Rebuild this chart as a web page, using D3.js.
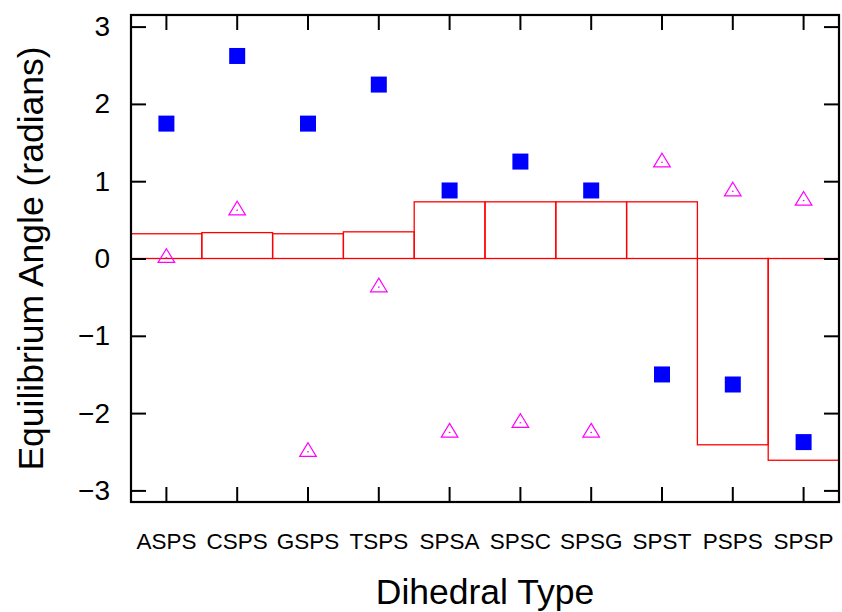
<!DOCTYPE html>
<html>
<head>
<meta charset="utf-8">
<script src="https://cdn.jsdelivr.net/npm/d3@7"></script>
<style>
  html, body { margin: 0; padding: 0; background: #fff; }
  svg { display: block; font-family: "Liberation Sans", Arial, sans-serif; }
</style>
</head>
<body>
<svg id="chart" width="842" height="612"></svg>
<script>
const categories = ["ASPS", "CSPS", "GSPS", "TSPS", "SPSA", "SPSC", "SPSG", "SPST", "PSPS", "SPSP"];
const boxValues = [0.32, 0.335, 0.32, 0.345, 0.733, 0.733, 0.733, 0.733, -2.41, -2.61];
const squareValues = [1.745, 2.62, 1.745, 2.25, 0.88, 1.254, 0.88, -1.5, -1.63, -2.375];
const triangleValues = [0.01, 0.625, -2.5, -0.37, -2.25, -2.125, -2.25, 1.245, 0.87, 0.75];
const yTicks = [-3, -2, -1, 0, 1, 2, 3];

(function () {
const svg = d3.select("#chart");
const mLeft = 131, mRight = 839, mTop = 15, mBottom = 502;

const x = d3.scaleBand().domain(categories).range([mLeft, mRight]).paddingInner(0).paddingOuter(0);
const y = d3.scaleLinear().domain([-3.15, 3.15]).range([mBottom, mTop]);
const cx = d => x(d) + x.bandwidth() / 2;

// boxes
svg.append("g").selectAll("rect").data(categories).join("rect")
  .attr("x", d => x(d))
  .attr("width", x.bandwidth())
  .attr("y", (d, i) => y(Math.max(0, boxValues[i])))
  .attr("height", (d, i) => Math.abs(y(boxValues[i]) - y(0)))
  .attr("fill", "none")
  .attr("stroke", "#ff0000")
  .attr("stroke-width", 1.3);

// squares
const sq = 16;
svg.append("g").selectAll("rect").data(categories).join("rect")
  .attr("x", d => cx(d) - sq / 2)
  .attr("y", (d, i) => y(squareValues[i]) - sq / 2)
  .attr("width", sq).attr("height", sq)
  .attr("fill", "#0000ff");

// triangles
const tri = svg.append("g").selectAll("g").data(categories).join("g")
  .attr("transform", (d, i) => `translate(${cx(d)},${y(triangleValues[i])})`);
tri.append("path")
  .attr("d", "M0,-9L8.3,4.7L-8.3,4.7Z")
  .attr("fill", "none")
  .attr("stroke", "#ff00ff")
  .attr("stroke-width", 1.2);
tri.append("rect")
  .attr("x", -0.8).attr("y", -0.6).attr("width", 1.6).attr("height", 1.2)
  .attr("fill", "#ff00ff");

// axes (ticks inward, mirrored)
const tickLen = 15;
const axisG = svg.append("g");
const yAxisL = d3.axisLeft(y).tickValues(yTicks).tickSize(-tickLen).tickPadding(21)
  .tickFormat(d => d < 0 ? "\u2212" + Math.abs(d) : String(d));
const gl = axisG.append("g").attr("transform", `translate(${mLeft},0)`).call(yAxisL);
gl.select(".domain").remove();
gl.selectAll("text").attr("font-size", 28).attr("fill", "#000").attr("font-family", "Liberation Sans, Arial, sans-serif");

const yAxisR = d3.axisRight(y).tickValues(yTicks).tickSize(-tickLen).tickFormat("");
const gr = axisG.append("g").attr("transform", `translate(${mRight},0)`).call(yAxisR);
gr.select(".domain").remove();

const xAxisB = d3.axisBottom(x).tickSize(-tickLen).tickPadding(0);
const gb = axisG.append("g").attr("transform", `translate(0,${mBottom})`).call(xAxisB);
gb.select(".domain").remove();
gb.selectAll("text").attr("font-size", 22.5).attr("fill", "#000").attr("dy", null).attr("y", 47)
  .attr("font-family", "Liberation Sans, Arial, sans-serif");

const xAxisT = d3.axisTop(x).tickSize(-tickLen).tickFormat("");
const gt = axisG.append("g").attr("transform", `translate(0,${mTop})`).call(xAxisT);
gt.select(".domain").remove();

axisG.selectAll(".tick line").attr("stroke", "#000").attr("stroke-width", 2);

// frame
svg.append("rect")
  .attr("x", mLeft).attr("y", mTop)
  .attr("width", mRight - mLeft).attr("height", mBottom - mTop)
  .attr("fill", "none").attr("stroke", "#000").attr("stroke-width", 2.2);

// axis titles
svg.append("text")
  .attr("x", (mLeft + mRight) / 2).attr("y", 604)
  .attr("text-anchor", "middle").attr("font-size", 35.5).attr("fill", "#000")
  .text("Dihedral Type");

svg.append("text")
  .attr("transform", `translate(43,258.5) rotate(-90)`)
  .attr("text-anchor", "middle").attr("font-size", 35.5).attr("fill", "#000")
  .text("Equilibrium Angle (radians)");
})();
</script>
</body>
</html>
